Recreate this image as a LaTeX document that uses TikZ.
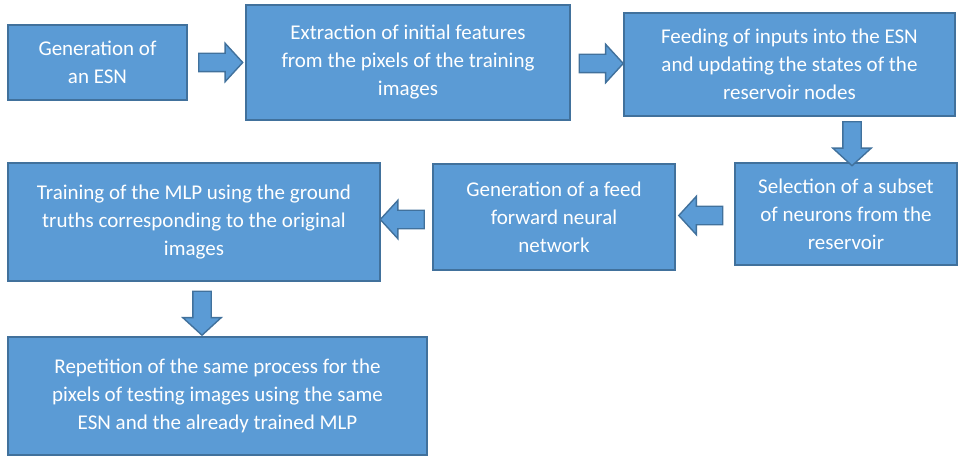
\documentclass[tikz,border=0pt]{standalone}
\usepackage{fontspec}
\setmainfont{Carlito}
\usetikzlibrary{calc,shapes.arrows}

\definecolor{boxfill}{HTML}{5B9BD5}
\definecolor{boxline}{HTML}{41719C}

\begin{document}
\begin{tikzpicture}[
		x=1pt, y=-1pt,
		box/.style = {
			shape=rectangle, draw=boxline, fill=boxfill,
			line width=1.6pt, inner sep=0pt, align=center,
			text=white, font=\fontsize{21}{28}\selectfont},
		blockarrow/.style = {
			single arrow, draw=boxline, fill=boxfill,
			line width=1.4pt, inner sep=8.5pt,
			minimum height=44pt, minimum width=0pt,
			single arrow head extend=10pt, single arrow tip angle=95}]
		\useasboundingbox (0,0) rectangle (958,457);
		% top row
		\node[box, minimum width=179pt, minimum height=75pt] (gen) at (97.5,62.5)
			{Generation of\\an ESN};
		\node[box, minimum width=324pt, minimum height=115pt] (ext) at (408,62.5)
			{Extraction of initial features\\from the pixels of the training\\images};
		\node[box, minimum width=331pt, minimum height=103pt] (feed) at (789.5,64.5)
			{Feeding of inputs into the ESN\\and updating the states of the\\reservoir nodes};
		% middle row
		\node[box, minimum width=222pt, minimum height=102pt] (sel) at (846,214)
			{Selection of a subset\\of neurons from the\\reservoir};
		\node[box, minimum width=242pt, minimum height=106pt] (ffn) at (554,217)
			{Generation of a feed\\forward neural\\network};
		\node[box, minimum width=372pt, minimum height=118pt] (train) at (194,222)
			{Training of the MLP using the ground\\truths corresponding to the original\\images};
		% bottom row
		\node[box, minimum width=419pt, minimum height=118pt] (rep) at (217.5,396)
			{Repetition of the same process for the\\pixels of testing images using the same\\ESN and the already trained MLP};
		% block arrows between the steps
		\node[blockarrow] (a1) at ($(gen.east)!0.5!(ext.west)$) {};
		\node[blockarrow] (a2) at ($(ext.east)!0.5!(feed.west)$) {};
		\node[blockarrow, shape border rotate=270] (a3) at ($(feed.south -| sel.north)!0.5!(sel.north)+(6,0)$) {};
		\node[blockarrow, shape border rotate=180] (a4) at ($(sel.west)!0.5!(ffn.east)$) {};
		\node[blockarrow, shape border rotate=180] (a5) at ($(ffn.west)!0.5!(train.east)$) {};
		\node[blockarrow, shape border rotate=270] (a6) at ($(train.south)!0.5!(train.south |- rep.north)+(8,0)$) {};
\end{tikzpicture}
\end{document}
